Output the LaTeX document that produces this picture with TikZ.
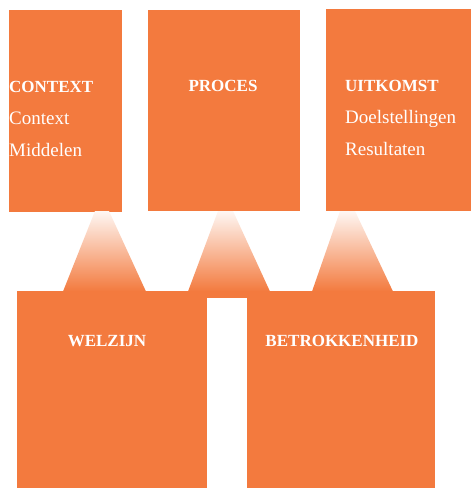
\documentclass[tikz,border=0pt]{standalone}
\usepackage{fontspec}
\setmainfont{Liberation Serif}
\definecolor{myorange}{RGB}{243,122,62}
\usetikzlibrary{positioning}

\begin{document}
\begin{tikzpicture}[x=1pt, y=-1pt, box/.style = {fill=myorange, draw=none, inner sep=0pt, outer sep=0pt, anchor=north west}, head/.style = {text=white, font=\fontsize{17}{20}\selectfont\bfseries, inner sep=0pt}, item/.style = {text=white, font=\fontsize{19}{22}\selectfont, inner sep=0pt, anchor=base west}, cone/.style = {top color=myorange!6, middle color=myorange!72, bottom color=myorange}]
    \useasboundingbox (0,0) rectangle (471,488);
    % bovenste rij
    \node[box, minimum width=113, minimum height=202] (context) at (9,10) {};
    \node[box, minimum width=152, minimum height=201] (proces) at (148,10) {};
    \node[box, minimum width=145, minimum height=202] (uitkomst) at (326,9) {};
    % onderste rij
    \node[box, minimum width=190, minimum height=197] (welzijn) at (17,291) {};
    \node[box, minimum width=188, minimum height=197] (betrokken) at (247,291) {};
    \fill[myorange] (welzijn.north east) rectangle ++(40,7);
    % kegels
    \foreach \tl/\tr/\bl/\br in {95/109/63/146, 218/233/188/270, 340/355/312/393}
    {%
        \shade[cone] (\tl,211) -- (\tr,211) -- (\br,291.5) -- (\bl,291.5) -- cycle;
    };
    % teksten
    \node[head, anchor=base west] (contexthead) at (9,92) {CONTEXT};
    \node[item] (contexta) at (9,124) {Context};
    \node[item] (contextb) at (9,156) {Middelen};
    \node[head, anchor=base] (proceshead) at (223,91) {PROCES};
    \node[head, anchor=base west] (uitkomsthead) at (345,91) {UITKOMST};
    \node[item] (uitkomsta) at (345,123) {Doelstellingen};
    \node[item] (uitkomstb) at (345,155) {Resultaten};
    \node[head, anchor=base] (welzijnhead) at (107,346) {WELZIJN};
    \node[head, anchor=base] (betrokkenhead) at (342,346) {BETROKKENHEID};
\end{tikzpicture}
\end{document}
